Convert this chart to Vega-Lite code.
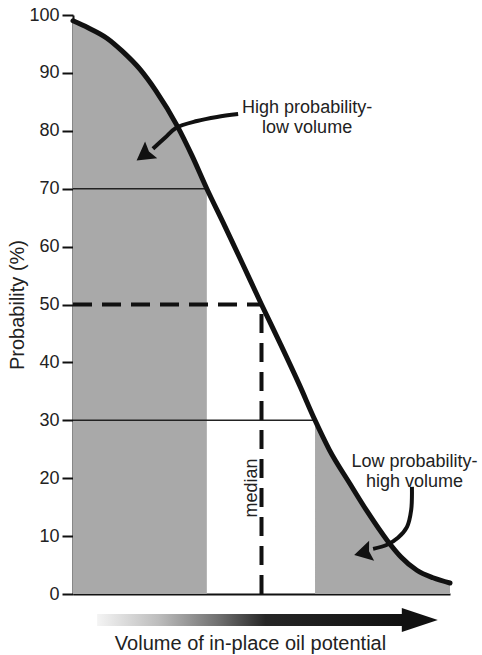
{
  "$schema": "https://vega.github.io/schema/vega-lite/v6.json",
  "autosize": {"type": "none"},
  "padding": {"left": 73, "top": 15, "right": 32, "bottom": 61},
  "width": 377,
  "height": 579,
  "background": "white",
  "config": {
    "view": {"stroke": null},
    "font": "Liberation Sans",
    "axis": {"grid": false, "domainColor": "#111", "domainWidth": 2, "tickColor": "#111", "tickWidth": 2, "labelFont": "Liberation Sans", "titleFont": "Liberation Sans", "labelColor": "#222", "titleColor": "#222", "titleFontWeight": "normal"}
  },
  "datasets": {
    "curve": [
      {"v": 0, "p": 99}, {"v": 4, "p": 97.8}, {"v": 9, "p": 96}, {"v": 13, "p": 93.8},
      {"v": 17.8, "p": 90.6}, {"v": 22, "p": 86.9}, {"v": 27.6, "p": 80.9}, {"v": 31.5, "p": 75.8},
      {"v": 35.5, "p": 70}, {"v": 40.3, "p": 63.5}, {"v": 45, "p": 57}, {"v": 50, "p": 50},
      {"v": 55, "p": 43.2}, {"v": 60, "p": 36.2}, {"v": 64.2, "p": 30}, {"v": 68, "p": 24.9},
      {"v": 73.5, "p": 19.0}, {"v": 78, "p": 14.3}, {"v": 83.3, "p": 9.3}, {"v": 87, "p": 6.4},
      {"v": 91.2, "p": 4.1}, {"v": 95.5, "p": 2.8}, {"v": 100, "p": 1.9}
    ],
    "hrules": [
      {"v": 0, "v2": 35.5, "p": 70},
      {"v": 0, "v2": 64.2, "p": 30}
    ],
    "dashH": [{"v": 0, "v2": 50, "p": 50}],
    "dashV": [{"v": 50, "p": 0, "p2": 50}],
    "callouts": [
      {"g": "a", "k": 1, "v": 43.8, "p": 82.9},
      {"g": "a", "k": 2, "v": 38.2, "p": 82.4},
      {"g": "a", "k": 3, "v": 32.9, "p": 81.7},
      {"g": "a", "k": 4, "v": 27.3, "p": 80.5},
      {"g": "a", "k": 5, "v": 24.4, "p": 78.8},
      {"g": "a", "k": 6, "v": 21.2, "p": 76.9},
      {"g": "b", "k": 1, "v": 89.9, "p": 18.5},
      {"g": "b", "k": 2, "v": 89.7, "p": 14.5},
      {"g": "b", "k": 3, "v": 88.6, "p": 11.6},
      {"g": "b", "k": 4, "v": 86.2, "p": 9.7},
      {"g": "b", "k": 5, "v": 83.3, "p": 8.5},
      {"g": "b", "k": 6, "v": 79.6, "p": 7.8}
    ],
    "heads": [
      {"v": 18.8, "p": 75.8, "a": 144},
      {"v": 76.9, "p": 7.1, "a": 166}
    ],
    "bar": [{"v": 6.4, "v2": 87.6, "p": -3.45, "p2": -5.53}],
    "bighead": [{"v": 92.0, "p": -4.49}],
    "notes": [
      {"v": 62.1, "p": 83.9, "t": "High probability-\nlow volume"},
      {"v": 90.6, "p": 22.8, "t": "Low probability-\nhigh volume"}
    ],
    "median": [{"v": 47.5, "p": 18.3, "t": "median"}]
  },
  "layer": [
    {
      "data": {"name": "curve"},
      "transform": [{"filter": "datum.v <= 35.5"}],
      "mark": {"type": "area", "color": "#a9a9a9", "interpolate": "monotone"},
      "encoding": {
        "x": {"field": "v", "type": "quantitative", "title": "Volume of in-place oil potential",
          "scale": {"domain": [0, 100], "nice": false, "zero": false},
          "axis": {"labels": false, "ticks": false, "titleFontSize": 20, "titlePadding": 39, "titleX": 177}},
        "y": {"field": "p", "type": "quantitative", "title": "Probability (%)",
          "scale": {"domain": [0, 100], "nice": false, "zero": false},
          "axis": {"values": [0, 10, 20, 30, 40, 50, 60, 70, 80, 90, 100], "tickSize": 11, "labelPadding": 3, "labelFontSize": 18, "titleFontSize": 20, "titlePadding": 1}}
      }
    },
    {
      "data": {"name": "curve"},
      "transform": [{"filter": "datum.v >= 64.2"}],
      "mark": {"type": "area", "color": "#a9a9a9", "interpolate": "monotone"},
      "encoding": {
        "x": {"field": "v", "type": "quantitative"},
        "y": {"field": "p", "type": "quantitative"}
      }
    },
    {
      "data": {"name": "hrules"},
      "mark": {"type": "rule", "color": "#222", "strokeWidth": 1.6},
      "encoding": {
        "x": {"field": "v", "type": "quantitative"},
        "x2": {"field": "v2"},
        "y": {"field": "p", "type": "quantitative"}
      }
    },
    {
      "data": {"name": "dashH"},
      "mark": {"type": "rule", "color": "#111", "strokeWidth": 4, "strokeDash": [19, 10]},
      "encoding": {
        "x": {"field": "v", "type": "quantitative"},
        "x2": {"field": "v2"},
        "y": {"field": "p", "type": "quantitative"}
      }
    },
    {
      "data": {"name": "dashV"},
      "mark": {"type": "rule", "color": "#111", "strokeWidth": 4, "strokeDash": [19, 10]},
      "encoding": {
        "x": {"field": "v", "type": "quantitative"},
        "y": {"field": "p", "type": "quantitative"},
        "y2": {"field": "p2"}
      }
    },
    {
      "data": {"name": "curve"},
      "mark": {"type": "line", "color": "#111", "strokeWidth": 5, "interpolate": "monotone", "strokeCap": "round"},
      "encoding": {
        "x": {"field": "v", "type": "quantitative"},
        "y": {"field": "p", "type": "quantitative"}
      }
    },
    {
      "data": {"name": "callouts"},
      "mark": {"type": "line", "color": "#111", "strokeWidth": 4, "interpolate": "catmull-rom"},
      "encoding": {
        "x": {"field": "v", "type": "quantitative"},
        "y": {"field": "p", "type": "quantitative"},
        "detail": {"field": "g"},
        "order": {"field": "k", "type": "quantitative"}
      }
    },
    {
      "data": {"name": "heads"},
      "mark": {"type": "point", "shape": "M1,0L-1,-1.15L-0.7,0L-1,1.15Z", "size": 324, "filled": true, "color": "#111", "opacity": 1},
      "encoding": {
        "x": {"field": "v", "type": "quantitative"},
        "y": {"field": "p", "type": "quantitative"},
        "angle": {"field": "a", "type": "quantitative", "scale": null}
      }
    },
    {
      "data": {"name": "bar"},
      "mark": {"type": "rect", "fill": {"gradient": "linear", "x1": 0, "y1": 0, "x2": 1, "y2": 0,
        "stops": [
          {"offset": 0, "color": "#f4f4f4"},
          {"offset": 0.2, "color": "#bdbdbd"},
          {"offset": 0.4, "color": "#6e6e6e"},
          {"offset": 0.55, "color": "#262626"},
          {"offset": 1, "color": "#111111"}
        ]}},
      "encoding": {
        "x": {"field": "v", "type": "quantitative"},
        "x2": {"field": "v2"},
        "y": {"field": "p", "type": "quantitative"},
        "y2": {"field": "p2"}
      }
    },
    {
      "data": {"name": "bighead"},
      "mark": {"type": "point", "shape": "M1,0L-1,-0.667L-1,0.667Z", "size": 1296, "filled": true, "color": "#111", "opacity": 1},
      "encoding": {
        "x": {"field": "v", "type": "quantitative"},
        "y": {"field": "p", "type": "quantitative"}
      }
    },
    {
      "data": {"name": "notes"},
      "mark": {"type": "text", "fontSize": 18, "color": "#222", "align": "center", "baseline": "middle", "lineBreak": "\n", "lineHeight": 20},
      "encoding": {
        "x": {"field": "v", "type": "quantitative"},
        "y": {"field": "p", "type": "quantitative"},
        "text": {"field": "t"}
      }
    },
    {
      "data": {"name": "median"},
      "mark": {"type": "text", "fontSize": 18, "color": "#222", "align": "center", "baseline": "middle", "angle": 270},
      "encoding": {
        "x": {"field": "v", "type": "quantitative"},
        "y": {"field": "p", "type": "quantitative"},
        "text": {"field": "t"}
      }
    }
  ]
}
